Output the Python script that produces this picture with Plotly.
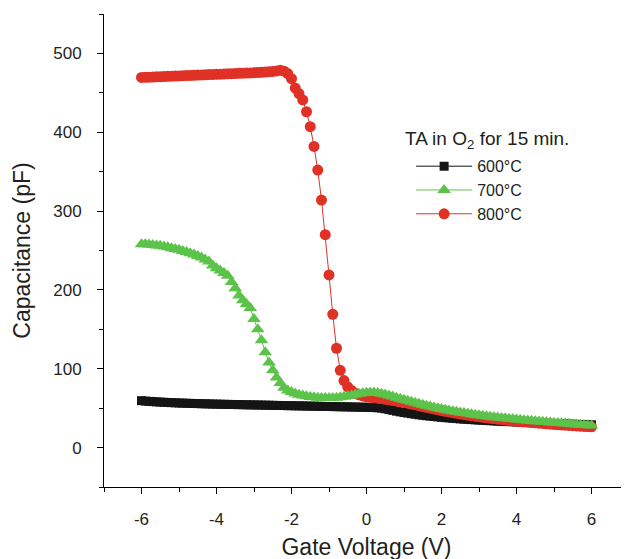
import plotly.graph_objects as go

# Gate voltage sweep grid (-6 V to 6 V, 0.1 V steps)
voltage = [round(-6 + 0.1 * i, 1) for i in range(121)]

cap_600 = [
    59.5, 59.0, 58.6, 58.3, 58.0, 57.7, 57.5, 57.2, 57.0, 56.8,
    56.6, 56.4, 56.2, 56.1, 55.9, 55.8, 55.6, 55.5, 55.4, 55.2,
    55.1, 55.0, 54.9, 54.8, 54.7, 54.6, 54.5, 54.4, 54.3, 54.2,
    54.1, 54.0, 53.9, 53.8, 53.7, 53.6, 53.5, 53.4, 53.3, 53.2,
    53.1, 53.0, 52.9, 52.8, 52.7, 52.6, 52.5, 52.4, 52.3, 52.2,
    52.1, 52.0, 51.9, 51.8, 51.7, 51.6, 51.5, 51.4, 51.3, 51.2,
    51.1,
    51.0, 50.8, 50.5, 50.0, 49.2, 48.2, 47.2, 46.2, 45.3, 44.5,
    43.7, 43.0, 42.3, 41.6, 41.0, 40.4, 39.9, 39.4, 38.9, 38.4,
    38.0, 37.6, 37.2, 36.8, 36.4, 36.1, 35.8, 35.5, 35.2, 34.9,
    34.6, 34.3, 34.1, 33.8, 33.6, 33.3, 33.1, 32.9, 32.7, 32.5,
    32.3, 32.1, 31.9, 31.7, 31.5, 31.3, 31.1, 30.9, 30.7, 30.5,
    30.3, 30.1, 30.0, 29.8, 29.6, 29.5, 29.3, 29.2, 29.0, 28.9,
]

cap_700 = [
    258.0, 258.0, 257.5, 257.0, 256.5, 256.0, 255.0, 254.0, 253.0, 252.0,
    251.0, 249.5, 248.0, 246.5, 245.0, 243.0, 241.0, 238.5, 236.0, 231.0,
    227.5, 224.5, 221.5, 218.0, 210.0, 202.0, 193.0, 187.0, 182.0, 177.0,
    163.0, 150.0, 136.0, 121.0, 108.0, 98.0, 89.0, 82.0, 76.0, 72.5,
    70.5, 68.5, 67.0, 66.0, 65.0, 64.3, 63.7, 63.3, 63.0, 62.8,
    62.8, 63.0, 63.3, 63.8, 64.5, 65.3, 66.2, 67.2, 68.2, 69.0,
    69.6,
    70.0, 69.8, 69.2, 68.3, 67.2, 66.0, 64.7, 63.3, 62.0, 60.7,
    59.4, 58.1, 56.8, 55.5, 54.3, 53.1, 52.0, 50.9, 49.9, 48.9,
    48.0, 47.1, 46.2, 45.4, 44.6, 43.8, 43.1, 42.4, 41.7, 41.0,
    40.4, 39.8, 39.2, 38.6, 38.1, 37.6, 37.1, 36.6, 36.1, 35.6,
    35.2, 34.7, 34.3, 33.9, 33.5, 33.1, 32.7, 32.3, 31.9, 31.5,
    31.1, 30.8, 30.4, 30.1, 29.7, 29.4, 29.0, 28.7, 28.3, 28.0,
]

cap_800 = [
    469.5, 469.7, 469.9, 470.1, 470.3, 470.5, 470.7, 470.9, 471.1, 471.3,
    471.5, 471.7, 471.9, 472.1, 472.3, 472.5, 472.7, 472.9, 473.1, 473.3,
    473.5, 473.7, 473.9, 474.1, 474.3, 474.5, 474.7, 474.9, 475.1, 475.3,
    475.5, 475.8, 476.1, 476.4, 476.8, 477.2, 477.8, 478.5, 477.5, 474.5,
    468.0, 456.0, 449.0, 441.0, 426.0, 407.0, 382.0, 352.0, 314.0, 270.0,
    219.0, 169.0, 126.0, 98.0, 85.0, 77.0, 72.5, 69.0, 67.0, 65.5,
    64.5,
    63.8, 63.2, 62.6, 62.0, 61.3, 60.6, 59.8, 59.0, 58.1, 57.2,
    56.3, 55.3, 54.3, 53.2, 52.1, 51.0, 50.0, 49.0, 48.0, 47.0,
    46.1, 45.2, 44.3, 43.5, 42.7, 41.9, 41.1, 40.4, 39.7, 39.0,
    38.4, 37.8, 37.2, 36.6, 36.0, 35.5, 35.0, 34.5, 34.0, 33.5,
    33.0, 32.6, 32.2, 31.8, 31.4, 31.0, 30.6, 30.2, 29.8, 29.4,
    29.0, 28.7, 28.4, 28.1, 27.8, 27.5, 27.2, 26.9, 26.6, 26.3,
]

series_names = ["600°C", "700°C", "800°C"]

x_tick_vals = [-6, -4, -2, 0, 2, 4, 6]
x_tick_text = ["-6", "-4", "-2", "0", "2", "4", "6"]
y_tick_vals = [0, 100, 200, 300, 400, 500]
y_tick_text = ["0", "100", "200", "300", "400", "500"]

BLACK = "#141414"
GREEN = "#5cc34a"
RED = "#e03127"
TXT = "#231f20"
FONT = "Liberation Sans, Arial, Helvetica, sans-serif"

fig = go.Figure()

fig.add_trace(go.Scatter(
    x=voltage, y=cap_600, name=series_names[0], mode="lines+markers",
    line=dict(color=BLACK, width=1),
    marker=dict(symbol="square", size=9, color=BLACK),
    legendrank=1,
))
fig.add_trace(go.Scatter(
    x=voltage, y=cap_800, name=series_names[2], mode="lines+markers",
    line=dict(color=RED, width=1),
    marker=dict(symbol="circle", size=11, color=RED),
    legendrank=3,
))
fig.add_trace(go.Scatter(
    x=voltage, y=cap_700, name=series_names[1], mode="lines+markers",
    line=dict(color=GREEN, width=1),
    marker=dict(symbol="triangle-up", size=12, color=GREEN),
    legendrank=2,
))

axis_common = dict(
    showline=True, linecolor="black", linewidth=1,
    ticks="outside", ticklen=6, tickwidth=1, tickcolor="black",
    showgrid=False, zeroline=False,
    tickfont=dict(family=FONT, size=17, color=TXT),
)

fig.update_xaxes(
    range=[-7, 7], tickmode="array", tickvals=x_tick_vals, ticktext=x_tick_text,
    minor=dict(dtick=1, tick0=-7, ticks="outside", ticklen=4, tickcolor="black"),
    title=dict(text="Gate Voltage (V)", font=dict(family=FONT, size=23, color=TXT), standoff=10),
    ticklabelstandoff=11,
    **axis_common,
)
fig.update_yaxes(
    range=[-50, 550], tickmode="array", tickvals=y_tick_vals, ticktext=y_tick_text,
    minor=dict(dtick=50, tick0=0, ticks="outside", ticklen=4, tickcolor="black"),
    title=dict(text="Capacitance (pF)", font=dict(family=FONT, size=23, color=TXT), standoff=16),
    ticklabelstandoff=12,
    **axis_common,
)

fig.add_annotation(
    text="TA in O<sub>2</sub> for 15 min.",
    xref="paper", yref="paper", x=0.5695, y=0.7336,
    xanchor="left", yanchor="middle", showarrow=False,
    font=dict(family=FONT, size=19, color=TXT),
)

fig.update_layout(
    width=629, height=559,
    margin=dict(l=96, r=8, t=6, b=80),
    paper_bgcolor="white", plot_bgcolor="white",
    font=dict(family=FONT, size=16, color=TXT),
    showlegend=True,
    legend=dict(
        x=0.585, y=0.714, xanchor="left", yanchor="top",
        bgcolor="rgba(0,0,0,0)",
        font=dict(family=FONT, size=16, color=TXT),
        itemwidth=56, tracegroupgap=0,
    ),
)

fig.write_html("out.html")
